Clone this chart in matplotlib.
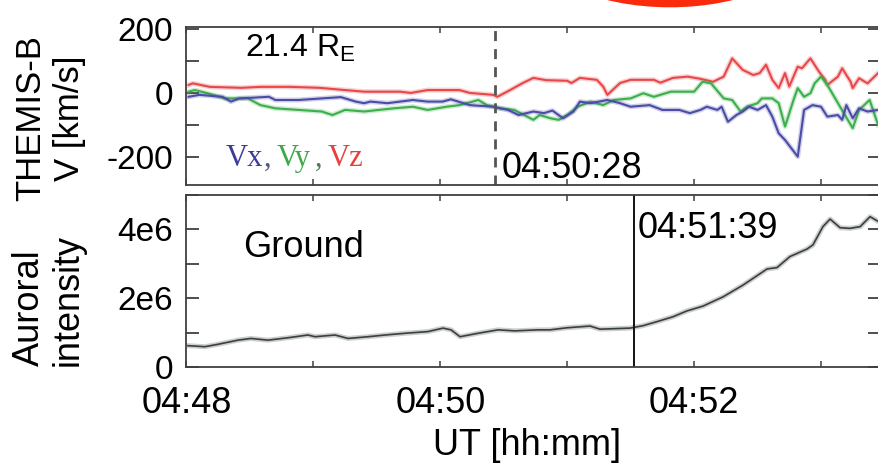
import numpy as np
import matplotlib
matplotlib.use('Agg')
import matplotlib.pyplot as plt
import matplotlib.patheffects as pe
from matplotlib.patches import Ellipse

plt.rcParams['font.family'] = ['Liberation Sans', 'DejaVu Sans']
plt.rcParams['mathtext.fontset'] = 'custom'
plt.rcParams['mathtext.rm'] = 'Liberation Sans'

W, H = 879, 465

# time in seconds after 04:48:00 UT
vz_t = [1, 3, 11, 26, 35, 49, 63, 75, 84, 101, 106, 114, 129, 134, 145, 147, 153, 159, 164, 170,
        180, 182, 186, 194, 197, 199, 205, 210, 221, 224, 230, 237, 243, 249, 254, 258, 263, 268,
        271, 274, 277, 280, 283, 285, 289, 291, 295, 299, 302, 303, 308, 310, 314, 315, 318, 322, 327]
vz = [25, 30, 19, 16, 19, 19, 16, 9, 4, 4, 0, 9, 9, 0, -6, -12, 9, 31, 47, 40,
      38, 31, 47, 41, 20, -6, 31, 41, 41, 32, 47, 51, 44, 35, 51, 108, 72, 56,
      62, 88, 41, 15, 62, 20, 82, 77, 108, 67, 41, 25, 51, 77, 35, 15, 46, 30, 62]

vx_t = [1, 6, 17, 21, 25, 39, 42, 53, 64, 73, 80, 84, 87, 95, 107, 114, 121, 125, 134, 145,
        152, 157, 164, 169, 173, 178, 183, 186, 191, 199, 205, 210, 219, 225, 233, 238, 243,
        246, 251, 253, 256, 260, 263, 266, 270, 274, 277, 280, 283, 289, 292, 296, 300, 303,
        308, 310, 312, 315, 318, 322, 327]
vx = [-12, -6, -12, -27, -17, -12, -22, -22, -17, -13, -27, -32, -27, -32, -22, -27, -27, -20, -38, -43,
      -53, -69, -58, -63, -55, -79, -58, -27, -32, -22, -32, -43, -38, -53, -53, -63, -53,
      -43, -53, -43, -90, -69, -58, -43, -53, -38, -74, -126, -147, -199, -53, -38, -43, -74,
      -69, -84, -38, -79, -48, -58, -53]

vy_t = [1, 4, 10, 18, 29, 35, 42, 53, 64, 69, 75, 84, 98, 107, 114, 123, 129, 138, 142, 148,
        155, 164, 167, 172, 176, 180, 185, 191, 197, 202, 210, 216, 221, 229, 240, 244, 248,
        254, 258, 262, 265, 270, 272, 277, 280, 283, 287, 289, 292, 295, 297, 300, 303, 309,
        315, 318, 323, 327]
vy = [4, 9, -1, -17, -17, -38, -48, -53, -58, -69, -53, -58, -48, -43, -53, -43, -38, -22, -38, -48,
      -53, -84, -69, -79, -84, -69, -43, -27, -38, -22, -17, -1, -12, 4, 4, 35, 30,
      -17, -22, -58, -43, -32, -17, -17, -32, -105, -22, 15, -12, -1, 30, 51, 25, -43,
      -110, -53, -22, -100]

aur_t = [0.7, 8.7, 14.9, 24.3, 30.5, 38.5, 48.0, 57.4, 60.8, 70.2, 76.4, 85.8, 93.9, 103.3,
         114.2, 121.3, 125.1, 129.3, 137.8, 147.3, 155.3, 166.2, 171.9, 179.9, 190.8, 195.5,
         209.7, 215.8, 222.5, 230.0, 236.6, 244.2, 253.7, 263.1, 274.5, 279.2, 285.3, 293.4,
         296.2, 300.9, 304.3, 309.0, 313.7, 318.5, 323.2, 327.4]
aur = np.array([0.62, 0.59, 0.66, 0.78, 0.83, 0.78, 0.85, 0.93, 0.88, 0.93, 0.83, 0.88, 0.93, 0.98,
                1.03, 1.13, 1.08, 0.88, 0.98, 1.08, 1.05, 1.08, 1.08, 1.14, 1.19, 1.10,
                1.13, 1.20, 1.32, 1.46, 1.63, 1.77, 2.04, 2.38, 2.85, 2.89, 3.21, 3.43,
                3.55, 4.08, 4.30, 4.05, 4.03, 4.08, 4.37, 4.22]) * 1e6

dashed_t = 146   # 04:50:28 marker
solid_t = 211.5  # 04:51:39 marker

xticks = [0, 60, 120, 180, 240, 300]
xticklabels = ['04:48', '', '04:50', '', '04:52', '']


def px(x, y):
    return x / W, 1 - y / H


def halo(color):
    return [pe.Stroke(linewidth=3.6, foreground=color, alpha=0.25), pe.Normal()]


fig = plt.figure(figsize=(W / 100, H / 100), dpi=100)
left, right = 186.5, 881
ax1 = fig.add_axes([left / W, 1 - 185 / H, (right - left) / W, 158 / H])
ax2 = fig.add_axes([left / W, 1 - 367 / H, (right - left) / W, 172 / H])

red, blue, green = '#e8474a', '#4b4ba8', '#3dae4c'
ax1.plot(vz_t, vz, color=red, lw=1.5, path_effects=halo(red))
ax1.plot(vy_t, vy, color=green, lw=1.5, path_effects=halo(green))
ax1.plot(vx_t, vx, color=blue, lw=1.5, path_effects=halo(blue))
ax1.axvline(dashed_t, color='#555555', lw=2, ls=(0, (3.6, 2.9)))
ax1.set_xlim(0, (right - left) / 2.115)
ax1.set_ylim(-287.5, 206)
ax1.set_xticks(xticks)
ax1.set_xticklabels([])
ax1.set_yticks([-200, -100, 0, 100, 200])
ax1.set_yticklabels(['-200', '', '0', '', '200'])

ax2.plot(aur_t, aur, color='#3a3f3f', lw=1.2, path_effects=halo('#3a3f3f'))
ax2.axvline(solid_t, color='#111111', lw=1.4)
ax2.set_xlim(0, (right - left) / 2.115)
ax2.set_ylim(0, 5e6)
ax2.set_xticks(xticks)
ax2.set_xticklabels(xticklabels)
ax2.set_yticks([0, 1e6, 2e6, 3e6, 4e6, 5e6])
ax2.set_yticklabels(['0', '', '2e6', '', '4e6', ''])

for ax in (ax1, ax2):
    for s in ax.spines.values():
        s.set_color('#404040')
        s.set_linewidth(1.3)
    ax.tick_params(axis='x', direction='in', top=True, bottom=True, length=4,
                   width=1.1, color='#404040', labelsize=26, pad=14)
    ax.tick_params(axis='y', direction='in', left=True, right=True, length=9.5,
                   width=1.3, color='#404040', labelsize=24, pad=9.5)

# annotations
fig.text(*px(245, 57), '21.4 R$_\\mathregular{E}$', fontsize=23, va='baseline')
fig.text(*px(502, 178), '04:50:28', fontsize=26, va='baseline')
fig.text(*px(243, 257), 'Ground', fontsize=26, va='baseline')
fig.text(*px(638, 238), '04:51:39', fontsize=26, va='baseline')

serif = ['Liberation Serif', 'DejaVu Serif']
for x, s, c in [(226, 'Vx', '#3c3c9c'), (264, ',', '#555577'), (277, 'Vy', '#3caa4a'),
                (315, ',', '#557755'), (328, 'Vz', '#e8403c')]:
    fig.text(*px(x, 166), s, fontsize=22, color=c, family=serif, va='baseline')

fig.text(*px(50, 118), 'THEMIS-B\nV [km/s]', fontsize=25, rotation=90,
         ha='center', va='center', multialignment='center', linespacing=1.2)
fig.text(*px(49, 300), 'Auroral\nintensity', fontsize=26, rotation=90,
         ha='center', va='center', multialignment='left', linespacing=1.15)
fig.text(*px(527, 455), 'UT [hh:mm]', fontsize=26, ha='center', va='baseline')

# red marker partly cut off at the top
fig.add_artist(Ellipse((670 / W, 1 + 60 / H), 278 / W, 134.6 / H,
                       transform=fig.transFigure, color='#fa2a0c', lw=0))

fig.savefig('out.png', dpi=100)
